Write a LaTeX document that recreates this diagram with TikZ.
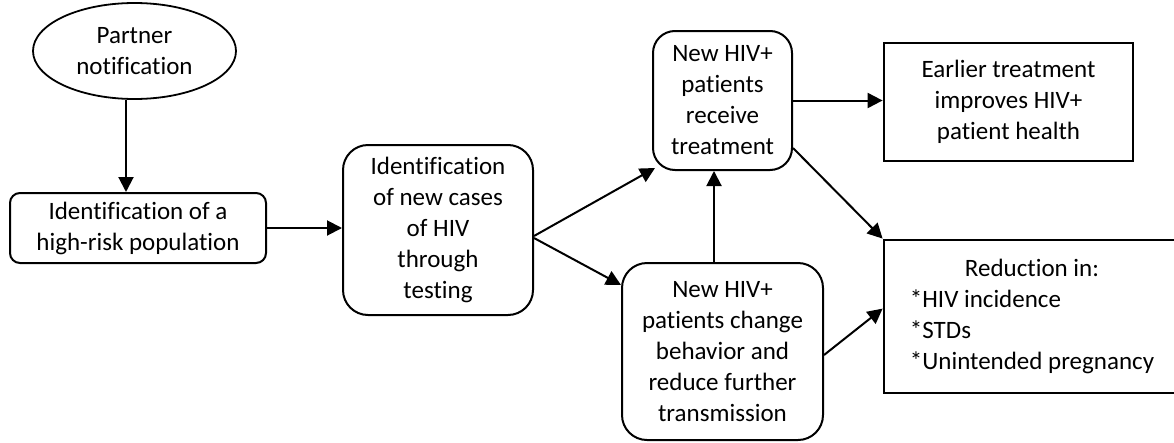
\documentclass[tikz,border=0pt]{standalone}
\usepackage{fontspec}
\setmainfont[Ligatures={NoCommon,NoContextual}]{Carlito}
\newcommand{\zk}{\kern0pt{}}
\usetikzlibrary{shapes.geometric,arrows.meta}
\begin{document}
\begin{tikzpicture}[x=1pt,y=-1pt,
  every node/.style={font=\fontsize{25}{31}\selectfont, align=center, inner sep=0pt, text=black},
  rbox/.style={draw, line width=2pt, rounded corners=#1},
  sbox/.style={draw, line width=2.8pt},
  oval/.style={draw, ellipse, line width=1.8pt},
  arr/.style={line width=2pt, -{Triangle[length=15pt,width=15pt]}}]
\useasboundingbox (0,0) rectangle (1174,442);
\node[oval, minimum width=203pt, minimum height=96pt] (ell) at (134.5,51) {Partner\\not\zk i\zk f\zk icat\zk ion};
\node[rbox=10pt, minimum width=256pt, minimum height=70pt] (b1) at (138,228) {Ident\zk i\zk f\zk icat\zk ion of a\\high-risk population};
\node[rbox=25pt, minimum width=190pt, minimum height=170pt] (b2) at (438,230) {Ident\zk i\zk f\zk icat\zk ion\\of new cases\\of HIV\\through\\testing};
\node[rbox=22pt, minimum width=139pt, minimum height=139pt] (b3) at (722.5,100.5) {New HIV+\\pat\zk ients\\receive\\treatment};
\node[rbox=25pt, minimum width=201pt, minimum height=177pt] (b4) at (722.5,351.5) {New HIV+\\pat\zk ients change\\behavior and\\reduce further\\transmission};
\node[sbox, minimum width=249pt, minimum height=118pt] (b5) at (1008.5,102) {Earlier treatment\\improves HIV+\\pat\zk ient health};
\node[sbox, minimum width=296pt, minimum height=153pt] (b6) at (1032,316.5) {\begin{tabular}{@{}l@{}}\multicolumn{1}{@{}c@{}}{Reduct\zk ion in:}\\{*}HIV incidence\\{*}STDs\\{*}Unintended pregnancy\end{tabular}};
\draw[arr] ([xshift=-8.5pt]ell.south) -- ([xshift=-12pt]b1.north);
\draw[arr] (b1.east) -- (b1.east -| b2.west);
\draw[arr] ([yshift=-6pt]b2.east) -- ([xshift=3pt,yshift=3pt]b3.south west);
\draw[arr] ([yshift=-8pt]b2.east) -- ([yshift=-23pt]b4.north west);
\draw[arr] ([xshift=-8.5pt]b4.north) -- ([xshift=-8.5pt]b3.south);
\draw[arr] (b3.east) -- (b3.east -| b5.west);
\draw[arr] ([yshift=-47.5pt]b3.east) -- (b6.north west);
\draw[arr] ([yshift=-3.5pt]b4.east) -- ([yshift=-70pt]b6.north west);
\end{tikzpicture}
\end{document}
